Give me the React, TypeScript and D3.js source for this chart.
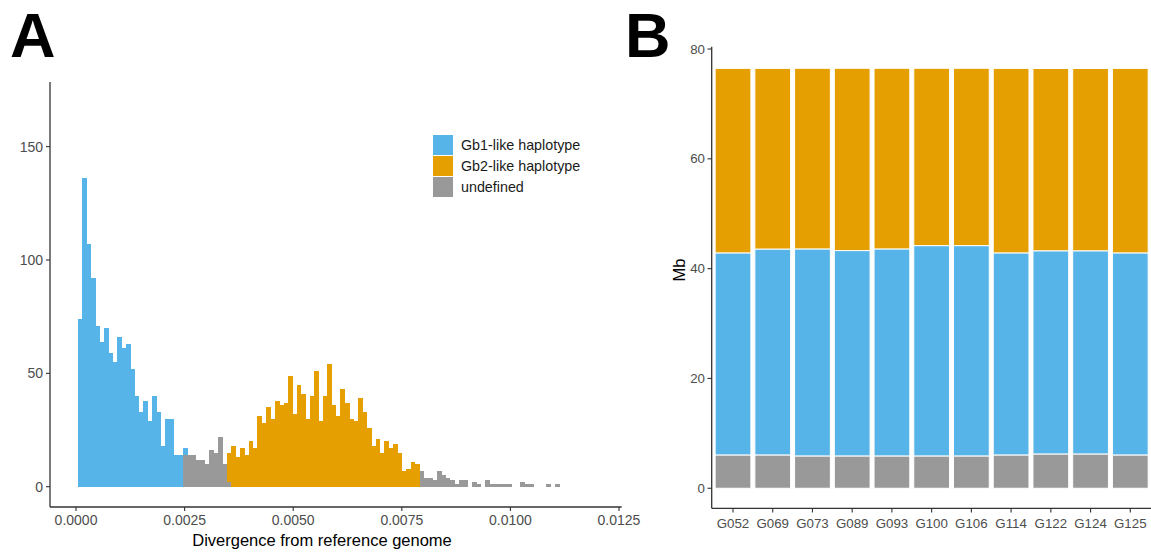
import React from "react";
import * as d3 from "d3";

// ---------- Panel A data (histogram counts per bin) ----------
const BIN_START = 0.00004;
const BIN_WIDTH = 0.0001008;
const N_BINS = 110;
// Gb1-like counts, bins 0..24
const gb1Counts = [74, 136, 107, 92, 71, 64, 70, 59, 55, 66, 61, 63, 52, 40, 33, 38, 29, 40, 33, 18, 30, 30, 14, 14, 3];
const gb1Offset = 0;
// Gb2-like counts, bins 34..77
const gb2Counts = [13, 18, 13, 17, 14, 20, 17, 31, 28, 35, 30, 38, 36, 37, 49, 32, 45, 41, 30, 40, 51, 29, 40, 54, 36, 31, 43, 37, 30, 29, 39, 33, 26, 18, 21, 15, 20, 17, 19, 15, 7, 8, 11, 10];
const gb2Offset = 34;
// undefined counts, bins 24..34 and 78..109
const undefMidCounts = [14, 14, 14, 12, 12, 10, 16, 15, 22, 10, 2];
const undefMidOffset = 24;
const undefTailCounts = [7, 4, 4, 3, 7, 5, 4, 3, 1, 3, 3, 0, 2, 1, 0, 3, 1, 1, 1, 1, 1, 0, 0, 2, 1, 1, 0, 0, 0, 1, 0, 1];
const undefTailOffset = 78;

const xTicksA = [0, 0.0025, 0.005, 0.0075, 0.01, 0.0125];
const yTicksA = [0, 50, 100, 150];
const legendLabels = ["Gb1-like haplotype", "Gb2-like haplotype", "undefined"];

// ---------- Panel B data (Mb per sample) ----------
const samples = ["G052", "G069", "G073", "G089", "G093", "G100", "G106", "G114", "G122", "G124", "G125"];
const undefMb = [6.07, 6.07, 5.89, 5.89, 5.89, 5.89, 5.89, 6.07, 6.25, 6.25, 6.07];
const gb1Mb = [36.8, 37.5, 37.7, 37.4, 37.7, 38.3, 38.3, 36.8, 37.0, 37.0, 36.8];
const gb2Mb = [33.6, 32.9, 32.9, 33.2, 32.9, 32.3, 32.3, 33.6, 33.2, 33.2, 33.6];
const yTicksB = [0, 20, 40, 60, 80];

const BLUE = "#56B4E9";
const ORANGE = "#E69F00";
const GRAY = "#999999";
const FONT = "'Liberation Sans', Arial, sans-serif";
const TICK_COL = "#4D4D4D";
const AXIS_COL = "#333333";

function pick(arr: number[], off: number, i: number) {
  const k = i - off;
  return k >= 0 && k < arr.length ? arr[k] : 0;
}

export default function App() {
  // ---- Panel A scales ----
  const xA = d3.scaleLinear().domain([-0.000599, 0.012562]).range([50, 621.7]);
  const yA = d3.scaleLinear().domain([-8.95, 178.5]).range([507, 82]);

  const bins = d3.range(N_BINS).map((i) => ({
    x0: BIN_START + i * BIN_WIDTH,
    x1: BIN_START + (i + 1) * BIN_WIDTH,
    undef: pick(undefMidCounts, undefMidOffset, i) + pick(undefTailCounts, undefTailOffset, i),
    gb2: pick(gb2Counts, gb2Offset, i),
    gb1: pick(gb1Counts, gb1Offset, i),
  }));
  const stackA = d3.stack<any>().keys(["undef", "gb2", "gb1"])(bins);
  const colA: Record<string, string> = { undef: GRAY, gb2: ORANGE, gb1: BLUE };

  // ---- Panel B scales ----
  const xB = d3.scaleBand().domain(samples).range([734.8 - 0.55 * 39.37, 1128.5 + 0.55 * 39.37]).paddingInner(0.1).paddingOuter(0.05);
  const yB = d3.scaleLinear().domain([-3.65, 80.42]).range([508.3, 46.7]);
  const rowsB = samples.map((s, i) => ({ s, undef: undefMb[i], gb1: gb1Mb[i], gb2: gb2Mb[i] }));
  const stackB = d3.stack<any>().keys(["undef", "gb1", "gb2"])(rowsB);
  const colB: Record<string, string> = { undef: GRAY, gb1: BLUE, gb2: ORANGE };
  const fmt = d3.format(".4f");

  return (
    <svg width={1151} height={554} style={{ position: "absolute", left: 0, top: 0, background: "#fff" }} fontFamily={FONT}>
      <rect x={0} y={0} width={1151} height={554} fill="#fff" />
      {/* Panel labels */}
      <text x={10} y={57} fontSize={63} fontWeight="bold" fill="#000">A</text>
      <text x={625} y={57} fontSize={63} fontWeight="bold" fill="#000">B</text>

      {/* ---------- Panel A ---------- */}
      <g shapeRendering="crispEdges">
        {stackA.map((layer) =>
          layer.map((d, i) =>
            d[1] - d[0] > 0 ? (
              <rect
                key={layer.key + i}
                x={xA(bins[i].x0)}
                width={xA(bins[i].x1) - xA(bins[i].x0) + 0.4}
                y={yA(d[1])}
                height={yA(d[0]) - yA(d[1])}
                fill={colA[layer.key]}
              />
            ) : null
          )
        )}
      </g>
      <line x1={50} x2={50} y1={82} y2={507} stroke={AXIS_COL} strokeWidth={1.3} />
      <line x1={50} x2={621.7} y1={507} y2={507} stroke={AXIS_COL} strokeWidth={1.3} />
      {yTicksA.map((t) => (
        <g key={"ya" + t}>
          <line x1={46} x2={50} y1={yA(t)} y2={yA(t)} stroke={AXIS_COL} strokeWidth={1.1} />
          <text x={43} y={yA(t)} dy="0.35em" textAnchor="end" fontSize={14} fill={TICK_COL}>{t}</text>
        </g>
      ))}
      {xTicksA.map((t) => (
        <g key={"xa" + t}>
          <line x1={xA(t)} x2={xA(t)} y1={507} y2={511} stroke={AXIS_COL} strokeWidth={1.1} />
          <text x={xA(t)} y={520.5} dy="0.35em" textAnchor="middle" fontSize={14} fill={TICK_COL}>{fmt(t)}</text>
        </g>
      ))}
      <text x={322} y={546} textAnchor="middle" fontSize={16.5} fill="#000">Divergence from reference genome</text>

      {/* Legend A */}
      {legendLabels.map((l, i) => (
        <g key={l} transform={`translate(433, ${135 + i * 21})`}>
          <rect x={0} y={0} width={20} height={20} fill={[BLUE, ORANGE, GRAY][i]} />
          <text x={28} y={10} dy="0.35em" fontSize={14.3} fill="#1a1a1a">{l}</text>
        </g>
      ))}

      {/* ---------- Panel B ---------- */}
      {stackB.map((layer) =>
        layer.map((d, i) => (
          <rect
            key={layer.key + i}
            x={xB(samples[i])}
            width={xB.bandwidth()}
            y={yB(d[1])}
            height={yB(d[0]) - yB(d[1])}
            fill={colB[layer.key]}
            stroke="#fff"
            strokeWidth={1}
          />
        ))
      )}
      <line x1={711.7} x2={711.7} y1={46.7} y2={508.3} stroke={AXIS_COL} strokeWidth={1.3} />
      <line x1={711.7} x2={1151} y1={508.3} y2={508.3} stroke={AXIS_COL} strokeWidth={1.3} />
      {yTicksB.map((t) => (
        <g key={"yb" + t}>
          <line x1={707.5} x2={711.7} y1={yB(t)} y2={yB(t)} stroke={AXIS_COL} strokeWidth={1.1} />
          <text x={705} y={yB(t)} dy="0.35em" textAnchor="end" fontSize={13.3} fill={TICK_COL}>{t}</text>
        </g>
      ))}
      {samples.map((s) => (
        <g key={"xb" + s}>
          <line x1={xB(s)! + xB.bandwidth() / 2} x2={xB(s)! + xB.bandwidth() / 2} y1={508.3} y2={512.5} stroke={AXIS_COL} strokeWidth={1.1} />
          <text x={xB(s)! + xB.bandwidth() / 2} y={523} dy="0.35em" textAnchor="middle" fontSize={13.3} fill={TICK_COL}>{s}</text>
        </g>
      ))}
      <text transform="translate(685, 270) rotate(-90)" textAnchor="middle" fontSize={16.5} fill="#000">Mb</text>
    </svg>
  );
}
